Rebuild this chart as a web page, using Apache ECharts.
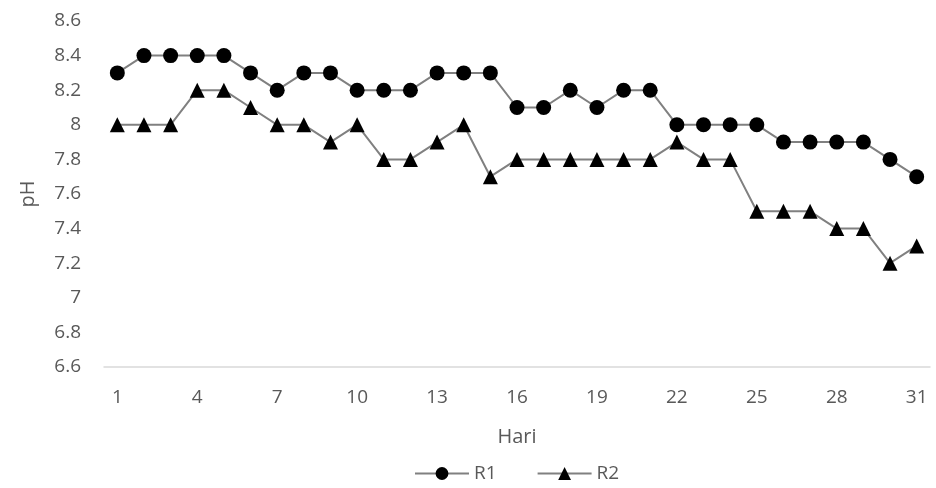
<!DOCTYPE html>
<html><head><meta charset="utf-8">
<script src="https://cdn.jsdelivr.net/npm/echarts@6/dist/echarts.min.js"></script>
<style>html,body{margin:0;padding:0;background:#fff}#c{width:936px;height:488px}</style>
</head><body><div id="c"></div>
<script>
const days = [];
for (let d = 1; d <= 31; d++) days.push(String(d));
const r1 = [8.3,8.4,8.4,8.4,8.4,8.3,8.2,8.3,8.3,8.2,8.2,8.2,8.3,8.3,8.3,8.1,8.1,8.2,8.1,8.2,8.2,8.0,8.0,8.0,8.0,7.9,7.9,7.9,7.9,7.8,7.7];
const r2 = [8.0,8.0,8.0,8.2,8.2,8.1,8.0,8.0,7.9,8.0,7.8,7.8,7.9,8.0,7.7,7.8,7.8,7.8,7.8,7.8,7.8,7.9,7.8,7.8,7.5,7.5,7.5,7.4,7.4,7.2,7.3];
const yMin = 6.6, yMax = 8.6, yStep = 0.2;
const font = '"Open Sans", sans-serif';
const txt = '#595959';
const chart = echarts.init(document.getElementById('c'));
chart.setOption({
  animation: false,
  grid: { left: 104, right: 6, top: 21, bottom: 121 },
  xAxis: {
    type: 'category', data: days, boundaryGap: true,
    name: 'Hari', nameLocation: 'middle', nameGap: 60,
    nameTextStyle: { color: txt, fontSize: 20, fontFamily: font },
    axisLine: { lineStyle: { color: '#d9d9d9', width: 1.5 } },
    axisTick: { show: false },
    axisLabel: { interval: 2, color: txt, fontSize: 19, fontFamily: font, margin: 21 }
  },
  yAxis: {
    type: 'value', min: yMin, max: yMax, interval: yStep,
    name: 'pH', nameLocation: 'middle', nameGap: 66,
    nameTextStyle: { color: txt, fontSize: 20, fontFamily: font },
    axisLine: { show: false }, axisTick: { show: false },
    splitLine: { show: false },
    axisLabel: { color: txt, fontSize: 19, fontFamily: font, margin: 23,
      formatter: v => String(Math.round(v * 10) / 10) }
  },
  legend: {
    top: 459, left: 409, itemWidth: 54, itemHeight: 16, itemGap: 40,
    textStyle: { color: txt, fontSize: 19, fontFamily: font },
    data: ['R1', 'R2']
  },
  series: [
    { name: 'R1', type: 'line', data: r1, symbol: 'circle', symbolSize: 15,
      lineStyle: { color: '#808080', width: 2 }, itemStyle: { color: '#000' } },
    { name: 'R2', type: 'line', data: r2, symbol: 'triangle', symbolSize: 15,
      lineStyle: { color: '#808080', width: 2 }, itemStyle: { color: '#000' } }
  ]
});
</script></body></html>
